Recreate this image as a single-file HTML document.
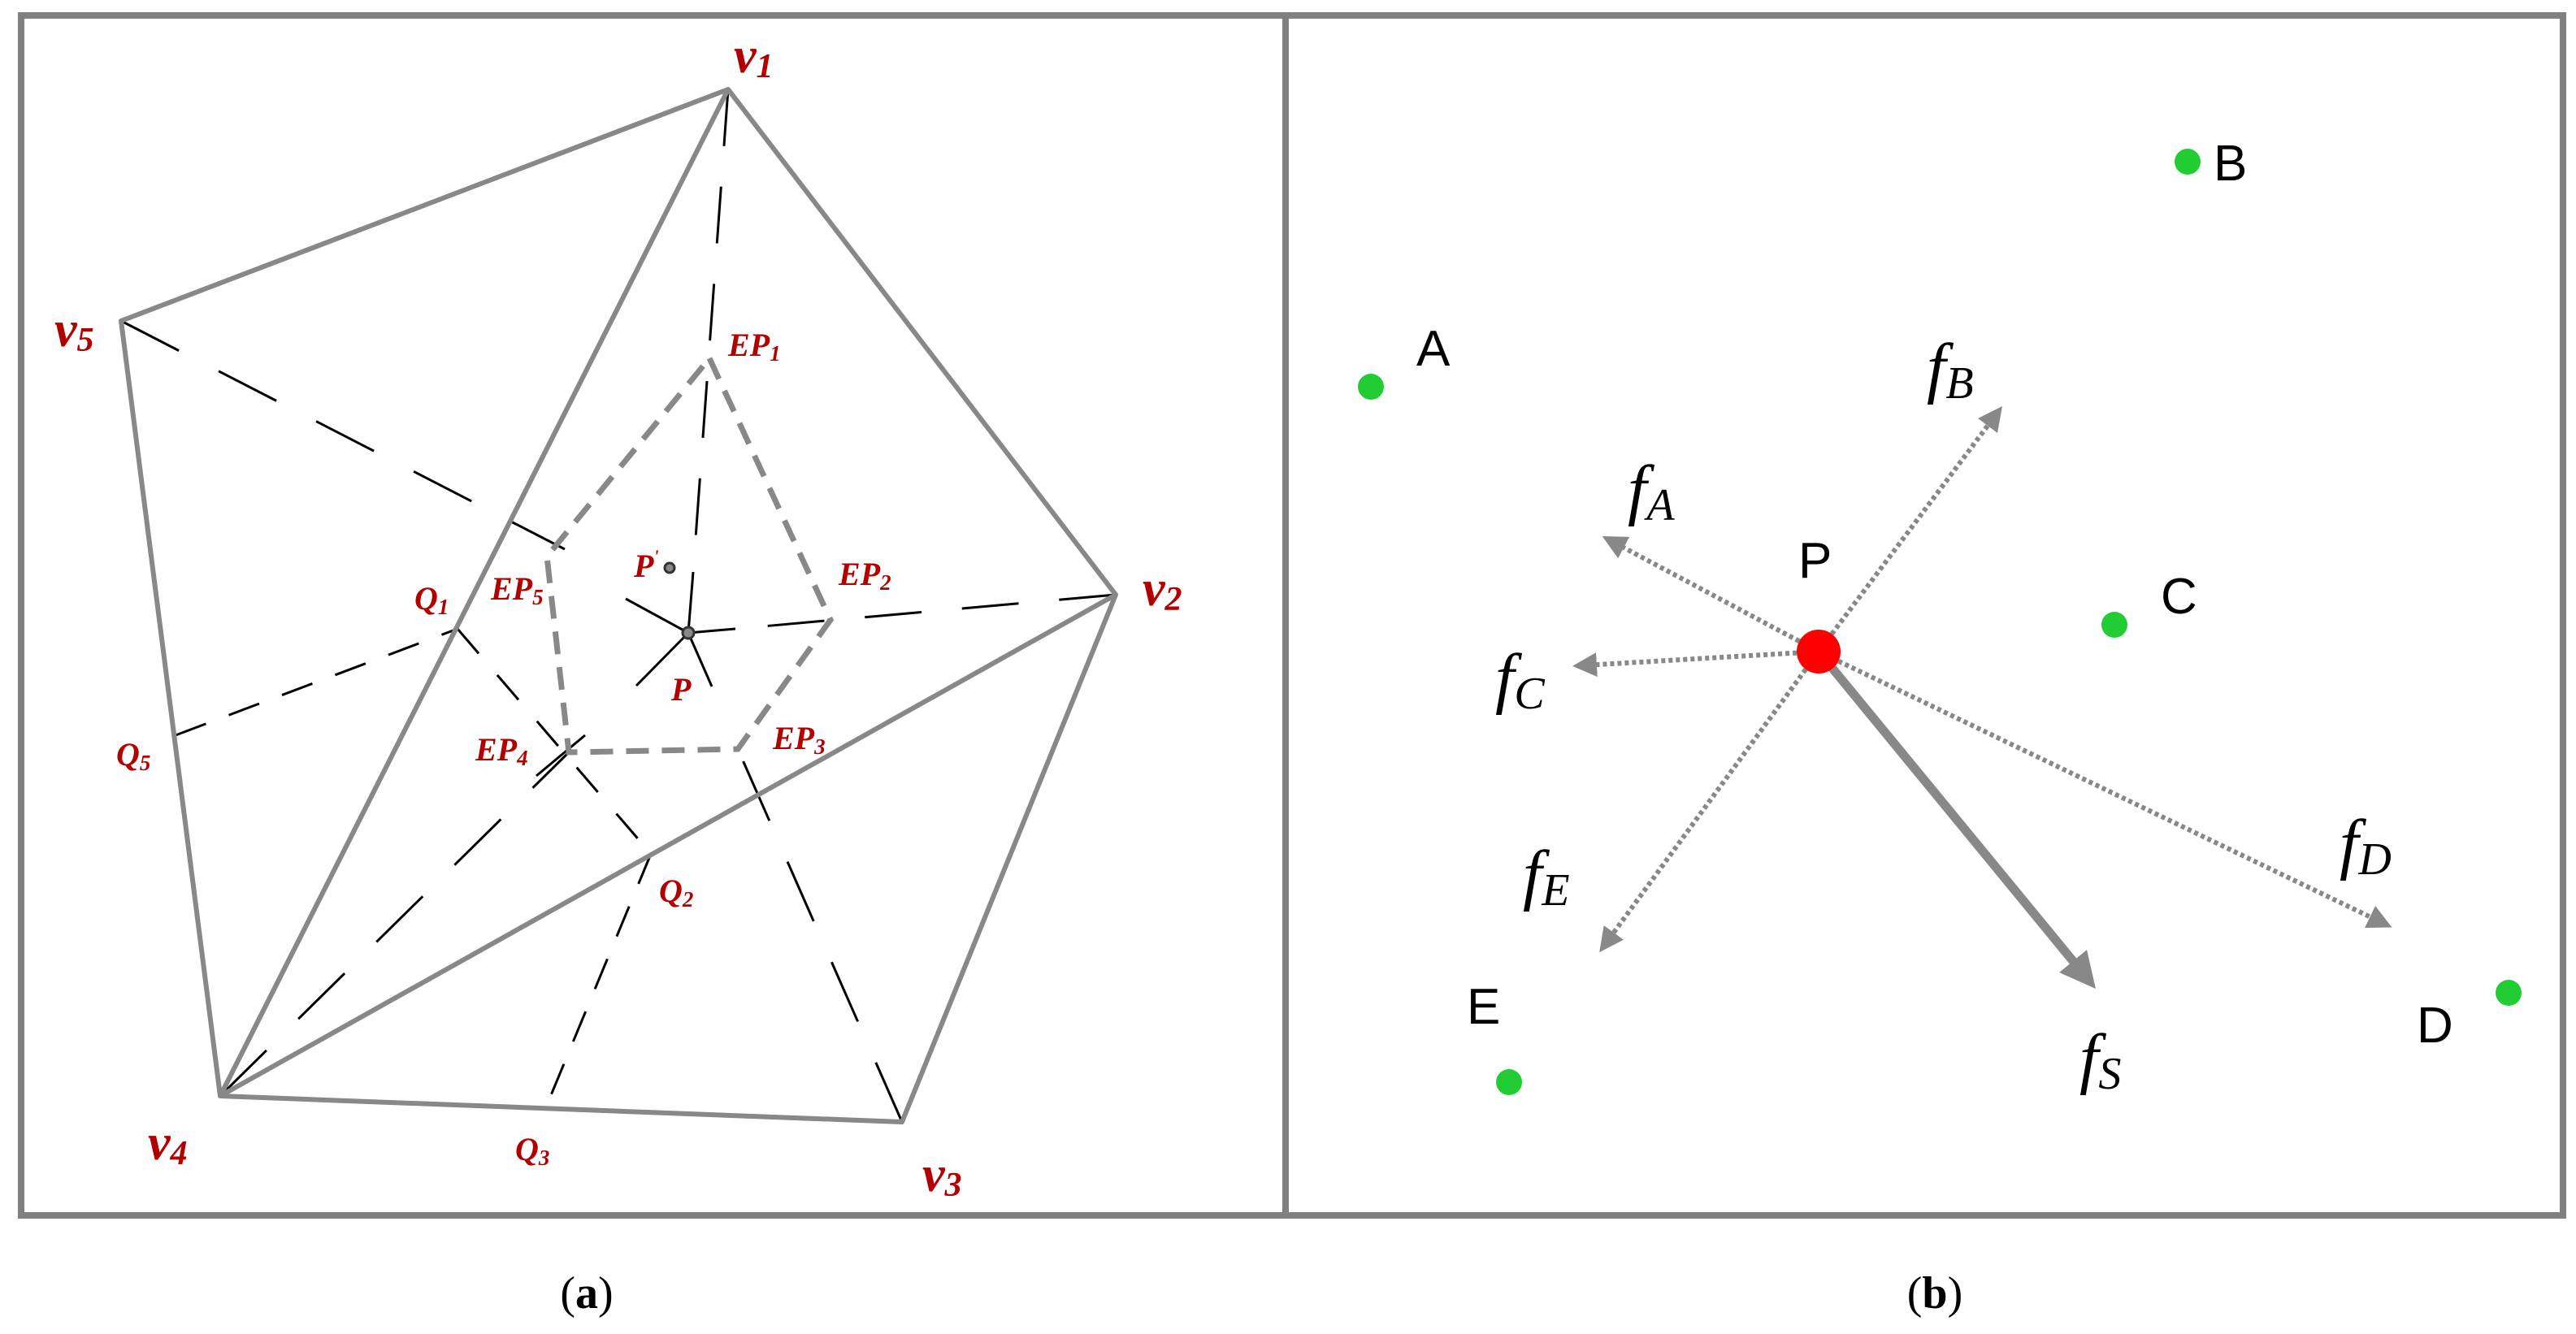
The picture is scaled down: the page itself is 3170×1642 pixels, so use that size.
<!DOCTYPE html>
<html><head><meta charset="utf-8"><style>
html,body{margin:0;padding:0;background:#fff;}
svg{display:block;}
.lb{font-family:"Liberation Serif",serif;font-weight:bold;font-style:italic;fill:#b00000;}
.sa{font-family:"Liberation Sans",sans-serif;fill:#000;font-size:62px;}
.f{font-family:"Liberation Serif",serif;font-style:italic;fill:#000;}
</style></head><body>
<svg width="3170" height="1642" viewBox="0 0 3170 1642" xmlns="http://www.w3.org/2000/svg">
<defs>
<marker id="ah" viewBox="0 0 10 10" refX="5" refY="5" markerWidth="5" markerHeight="5" orient="auto" markerUnits="strokeWidth"><path d="M0,0 L10,5 L0,10 z" fill="#888"/></marker>
<marker id="ah2" viewBox="0 0 10 10" refX="5" refY="5" markerWidth="4" markerHeight="4" orient="auto" markerUnits="strokeWidth"><path d="M0,0 L10,5 L0,10 z" fill="#888"/></marker>
</defs>
<rect x="26" y="19" width="1556" height="1477" fill="none" stroke="#808080" stroke-width="8"/>
<rect x="1582" y="19" width="1572" height="1477" fill="none" stroke="#808080" stroke-width="8"/>

<g stroke="#000" stroke-width="3" fill="none">
<line x1="896" y1="110" x2="853" y2="704" stroke-dasharray="70,50"/>
<line x1="1373" y1="732" x2="905" y2="774" stroke-dasharray="70,50"/>
<line x1="149" y1="395" x2="695" y2="676" stroke-dasharray="80,55"/>
<line x1="563" y1="774" x2="801" y2="1051" stroke-dasharray="40,35"/>
<line x1="271" y1="1349" x2="700" y2="926" stroke-dasharray="80,55"/>
<line x1="1110" y1="1381" x2="908" y2="922" stroke-dasharray="80,55"/>
<line x1="216" y1="905" x2="563" y2="774" stroke-dasharray="40,30"/>
<line x1="801" y1="1051" x2="671" y2="1365" stroke-dasharray="40,30"/>
<line x1="847" y1="779" x2="770" y2="737"/>
<line x1="847" y1="779" x2="853" y2="704"/>
<line x1="847" y1="779" x2="905" y2="774"/>
<line x1="847" y1="779" x2="783" y2="844"/>
<line x1="847" y1="779" x2="876" y2="845"/>
<line x1="720" y1="905" x2="660" y2="955"/>
</g>
<g stroke="#888" stroke-width="6" fill="none" stroke-linejoin="round">
<polygon points="896,110 1373,732 1110,1381 271,1349 149,395"/>
<line x1="896" y1="110" x2="271" y2="1349"/>
<line x1="1373" y1="732" x2="271" y2="1349"/>
</g>
<polygon points="873,441 1022,763 908,922 700,926 673,685" fill="none" stroke="#888" stroke-width="7" stroke-dasharray="28,16"/>
<circle cx="847" cy="779" r="7" fill="#888" stroke="#333" stroke-width="3"/>
<circle cx="824" cy="699" r="6" fill="#888" stroke="#333" stroke-width="3"/>

<g class="lb">
<text x="903" y="89" font-size="62">v<tspan font-size="42" dy="6">1</tspan></text>
<text x="1406" y="745" font-size="62">v<tspan font-size="42" dy="6">2</tspan></text>
<text x="1135" y="1466" font-size="62">v<tspan font-size="42" dy="6">3</tspan></text>
<text x="182" y="1427" font-size="62">v<tspan font-size="42" dy="6">4</tspan></text>
<text x="67" y="426" font-size="62">v<tspan font-size="42" dy="6">5</tspan></text>
<text x="510" y="750" font-size="40">Q<tspan font-size="27" dy="6">1</tspan></text>
<text x="811" y="1110" font-size="40">Q<tspan font-size="27" dy="6">2</tspan></text>
<text x="634" y="1428" font-size="40">Q<tspan font-size="27" dy="6">3</tspan></text>
<text x="143" y="942" font-size="40">Q<tspan font-size="27" dy="6">5</tspan></text>
<text x="896" y="438" font-size="40">EP<tspan font-size="27" dy="6">1</tspan></text>
<text x="1032" y="720" font-size="40">EP<tspan font-size="27" dy="6">2</tspan></text>
<text x="951" y="922" font-size="40">EP<tspan font-size="27" dy="6">3</tspan></text>
<text x="585" y="936" font-size="40">EP<tspan font-size="27" dy="6">4</tspan></text>
<text x="604" y="738" font-size="40">EP<tspan font-size="27" dy="6">5</tspan></text>
<text x="780" y="710" font-size="40">P<tspan font-size="22" dy="-18">'</tspan></text>
<text x="826" y="862" font-size="40">P</text>
</g>
<text x="722" y="1610" font-family="Liberation Serif,serif" font-size="56" text-anchor="middle">(<tspan font-weight="bold">a</tspan>)</text>

<g stroke="#888" stroke-width="6" fill="none" stroke-dasharray="5,4">
<line x1="2238" y1="802" x2="1985" y2="667" marker-end="url(#ah)"/>
<line x1="2238" y1="802" x2="2455" y2="512" marker-end="url(#ah)"/>
<line x1="2238" y1="802" x2="1950" y2="819" marker-end="url(#ah)"/>
<line x1="2238" y1="802" x2="2930" y2="1135" marker-end="url(#ah)"/>
<line x1="2238" y1="802" x2="1977" y2="1160" marker-end="url(#ah)"/>
</g>
<line x1="2238" y1="802" x2="2565" y2="1200" stroke="#888" stroke-width="11" marker-end="url(#ah2)"/>
<g fill="#22cc33">
<circle cx="2692" cy="199" r="16"/>
<circle cx="1687" cy="476" r="16"/>
<circle cx="2602" cy="769" r="16"/>
<circle cx="1857" cy="1332" r="16"/>
<circle cx="3087" cy="1222" r="16"/>
</g>
<circle cx="2238" cy="802" r="27" fill="#ff0000"/>
<text class="sa" x="2724" y="222">B</text>
<text class="sa" x="1743" y="450">A</text>
<text class="sa" x="2659" y="755">C</text>
<text class="sa" x="1805" y="1260">E</text>
<text class="sa" x="2974" y="1283">D</text>
<text class="sa" x="2213" y="711">P</text>
<g class="f" font-size="84">
<text x="2003" y="630">f<tspan font-size="56" dy="10">A</tspan></text>
<text x="2371" y="480">f<tspan font-size="56" dy="10">B</tspan></text>
<text x="1840" y="862">f<tspan font-size="56" dy="10">C</tspan></text>
<text x="2879" y="1066">f<tspan font-size="56" dy="10">D</tspan></text>
<text x="1874" y="1104">f<tspan font-size="56" dy="10">E</tspan></text>
<text x="2559" y="1330">f<tspan font-size="56" dy="10">S</tspan></text>
</g>
<text x="2381" y="1610" font-family="Liberation Serif,serif" font-size="56" text-anchor="middle">(<tspan font-weight="bold">b</tspan>)</text>
</svg>
</body></html>
